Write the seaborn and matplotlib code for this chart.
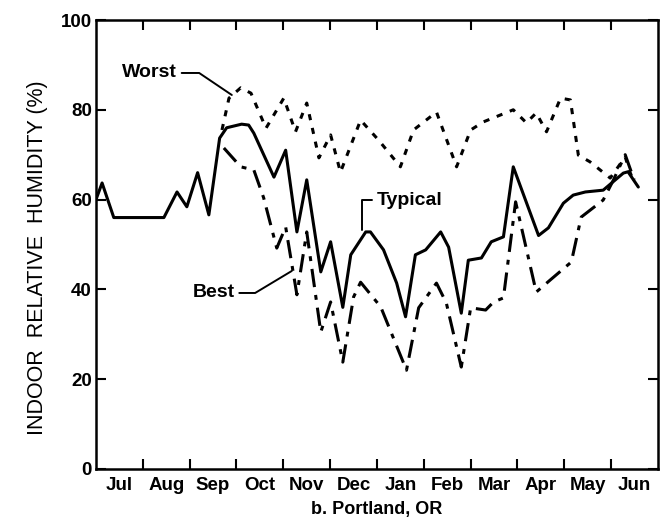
import numpy as np
import pandas as pd
import seaborn as sns
import matplotlib.pyplot as plt

# months counted from 1 July, values are indoor RH in %
months = ['Jul', 'Aug', 'Sep', 'Oct', 'Nov', 'Dec', 'Jan', 'Feb', 'Mar', 'Apr', 'May', 'Jun']

typical_x = [0.00, 0.13, 0.38, 1.45, 1.73, 1.94, 2.17, 2.41, 2.64, 2.79, 3.11, 3.26, 3.37,
             3.80, 4.05, 4.29, 4.50, 4.80, 5.01, 5.27, 5.44, 5.76, 5.86, 6.14, 6.42, 6.61,
             6.82, 7.04, 7.36, 7.53, 7.80, 7.95, 8.23, 8.44, 8.70, 8.91, 9.45, 9.66, 9.98,
             10.19, 10.45, 10.83, 11.26, 11.36, 11.58]
typical_y = [60.0, 63.7, 56.0, 56.0, 61.7, 58.4, 66.0, 56.6, 73.7, 76.0, 76.8, 76.6, 74.8,
             65.0, 71.0, 52.8, 64.4, 43.9, 50.6, 36.0, 47.7, 52.8, 52.8, 48.8, 41.4, 33.9,
             47.7, 48.8, 52.8, 49.4, 34.7, 46.5, 47.0, 50.6, 51.7, 67.3, 52.0, 53.7, 59.2,
             61.0, 61.7, 62.1, 65.9, 66.2, 62.8]

worst_x = [2.69, 2.84, 3.09, 3.31, 3.63, 4.01, 4.26, 4.50, 4.76, 5.01, 5.22, 5.65, 6.03,
           6.50, 6.78, 7.27, 7.70, 8.00, 8.27, 8.91, 9.19, 9.40, 9.62, 9.92, 10.13, 10.30,
           10.55, 10.98, 11.30, 11.41, 11.49]
worst_y = [75.5, 82.6, 84.9, 83.7, 75.9, 82.6, 75.1, 81.5, 69.3, 74.4, 66.1, 77.7, 73.3,
           67.3, 75.5, 79.5, 67.3, 75.5, 77.3, 80.0, 77.1, 79.3, 75.1, 82.6, 82.2, 69.9,
           68.4, 64.8, 69.5, 65.9, 63.9]

best_x = [2.73, 3.09, 3.37, 3.58, 3.86, 4.05, 4.29, 4.50, 4.80, 5.01, 5.27, 5.50, 5.65,
          6.08, 6.63, 6.89, 7.27, 7.48, 7.80, 8.00, 8.32, 8.49, 8.70, 8.96, 9.40, 9.70,
          10.15, 10.36, 10.83, 11.05, 11.30, 11.49]
best_y = [71.5, 67.3, 66.6, 60.4, 49.2, 53.9, 38.8, 52.8, 30.5, 37.2, 23.8, 38.3, 41.6,
          36.1, 22.0, 35.9, 41.4, 37.0, 22.7, 35.9, 35.4, 37.2, 38.1, 59.5, 39.4, 42.1,
          46.1, 56.1, 59.9, 64.4, 70.0, 64.4]

sns.set_style('ticks')
plt.rcParams['font.family'] = ['Liberation Sans', 'DejaVu Sans']
plt.rcParams['text.color'] = 'black'
plt.rcParams['axes.labelcolor'] = 'black'
plt.rcParams['xtick.color'] = 'black'
plt.rcParams['ytick.color'] = 'black'

fig = plt.figure(figsize=(6.68, 5.25), dpi=100)
ax = fig.add_axes([0.1437, 0.1067, 0.8413, 0.8552])

typical = pd.DataFrame({'month': typical_x, 'rh': typical_y})
worst = pd.DataFrame({'month': worst_x, 'rh': worst_y})
best = pd.DataFrame({'month': best_x, 'rh': best_y})

sns.lineplot(data=typical, x='month', y='rh', ax=ax, color='black', lw=2.2,
             estimator=None, sort=False)
sns.lineplot(data=worst, x='month', y='rh', ax=ax, color='black', lw=2.2,
             linestyle=(0, (2.0, 2.6)), estimator=None, sort=False)
sns.lineplot(data=best, x='month', y='rh', ax=ax, color='black', lw=2.2,
             linestyle=(0, (6.0, 2.6, 1.6, 2.6)), estimator=None, sort=False)

ax.set_xlim(0, 12)
ax.set_ylim(0, 100)
ax.set_xticks(range(1, 12))
ax.set_xticklabels([])
ax.set_xticks(np.arange(0.5, 12), minor=True)
ax.set_xticklabels(months, minor=True, fontsize=13.5, fontweight='bold')
ax.set_yticks([0, 20, 40, 60, 80, 100])
ax.set_yticklabels(['0', '20', '40', '60', '80', '100'], fontsize=13.5, fontweight='bold')
ax.tick_params(which='major', direction='in', length=7, width=1.5,
               top=True, right=True, pad=3)
ax.tick_params(axis='x', which='minor', length=0, pad=6)
for s in ax.spines.values():
    s.set_linewidth(1.8)
    s.set_color('black')

ax.set_xlabel('b. Portland, OR', fontsize=13, fontweight='bold', labelpad=5)
ax.set_ylabel('INDOOR  RELATIVE  HUMIDITY (%)', fontsize=15.5)
ax.yaxis.set_label_coords(-0.085, 0.47)

# curve labels with leader lines
lead = dict(arrowstyle='-', color='black', lw=1.4, shrinkA=1, shrinkB=0)
ax.annotate('Worst', xy=(2.90, 83.3), xytext=(1.73, 88.2), ha='right', va='center',
            fontsize=14, fontweight='bold',
            arrowprops=dict(lead, relpos=(1, 0.5), connectionstyle='angle,angleA=0,angleB=-34,rad=0'))
ax.annotate('Typical', xy=(5.67, 53.2), xytext=(5.99, 59.9), ha='left', va='center',
            fontsize=14, fontweight='bold',
            arrowprops=dict(lead, relpos=(0, 0.5), connectionstyle='angle,angleA=0,angleB=90,rad=0'))
ax.annotate('Best', xy=(4.18, 44.1), xytext=(2.96, 39.2), ha='right', va='center',
            fontsize=14, fontweight='bold',
            arrowprops=dict(lead, relpos=(1, 0.5), connectionstyle='angle,angleA=0,angleB=31,rad=0'))

fig.savefig('out.png', dpi=100)
